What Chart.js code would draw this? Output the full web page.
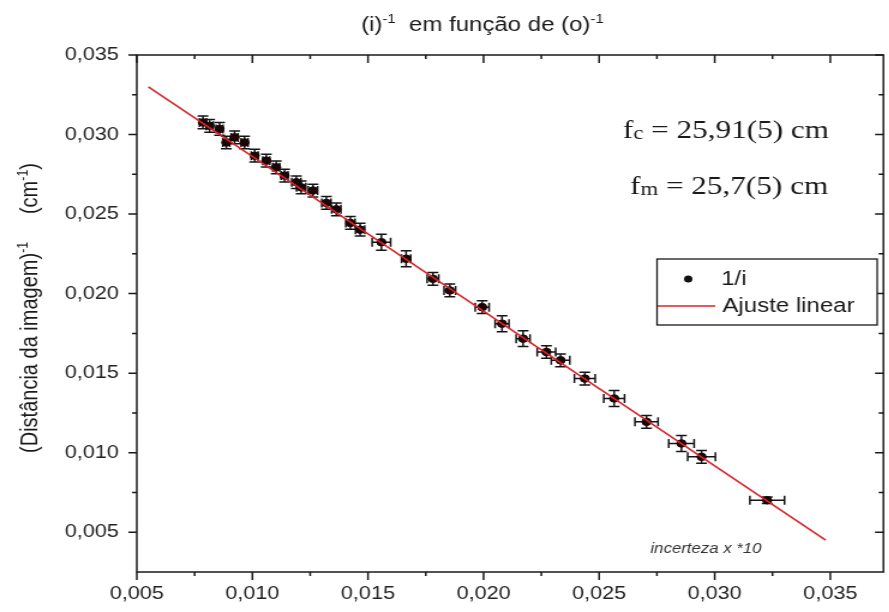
<!DOCTYPE html>
<html>
<head>
<meta charset="utf-8">
<script src="https://cdn.jsdelivr.net/npm/chart.js@4.4.1/dist/chart.umd.min.js"></script>
<style>
  html, body { margin: 0; padding: 0; background: #fff; overflow: hidden; }
  /* the reference looks stretched sideways, so draw narrow and scale up */
  #wrap { width: 741px; height: 612px; transform: scaleX(1.2); transform-origin: 0 0; }
</style>
</head>
<body>
<div id="wrap"><canvas id="chart"></canvas></div>
<script>
// 1/o (cm^-1)
const invObject = [0.00786, 0.00815, 0.00858, 0.00887, 0.00923, 0.00966, 0.01010, 0.01060,
  0.01103, 0.01139, 0.01190, 0.01211, 0.01262, 0.01320, 0.01363, 0.01424, 0.01466, 0.01558,
  0.01665, 0.01781, 0.01854, 0.01994, 0.02080, 0.02171, 0.02272, 0.02333, 0.02438, 0.02565,
  0.02705, 0.02856, 0.02943, 0.03227];
// 1/i (cm^-1)
const invImage = [0.03076, 0.03055, 0.03035, 0.02950, 0.02982, 0.02950, 0.02867, 0.02836,
  0.02794, 0.02742, 0.02700, 0.02668, 0.02648, 0.02570, 0.02530, 0.02444, 0.02402, 0.02323,
  0.02219, 0.02093, 0.02020, 0.01915, 0.01811, 0.01717, 0.01633, 0.01581, 0.01466, 0.01341,
  0.01194, 0.01058, 0.00974, 0.00701];
// uncertainties (x already multiplied by 10)
const errObject = [0.00015, 0.00015, 0.00015, 0.00015, 0.00015, 0.00015, 0.00015, 0.00015,
  0.00015, 0.00015, 0.0002, 0.0002, 0.0002, 0.0002, 0.0002, 0.0002, 0.0002, 0.0004,
  0.0002, 0.00025, 0.00025, 0.0003, 0.0003, 0.0003, 0.0004, 0.0004, 0.00045, 0.00045,
  0.0005, 0.00055, 0.0006, 0.00075];
const errImage = [0.0004, 0.0004, 0.0004, 0.0004, 0.0004, 0.0004, 0.0004, 0.0004,
  0.0004, 0.0004, 0.0004, 0.0004, 0.0004, 0.0004, 0.0004, 0.0004, 0.0004, 0.0005,
  0.0005, 0.0004, 0.0004, 0.0004, 0.0005, 0.0005, 0.0004, 0.0004, 0.0004, 0.0005,
  0.0004, 0.0005, 0.0004, 0.0002];

const fitX = [0.0055, 0.0348];
const fitY = [0.0330, 0.0045];

const xTicks = [0.005, 0.010, 0.015, 0.020, 0.025, 0.030, 0.035];
const yTicks = [0.005, 0.010, 0.015, 0.020, 0.025, 0.030, 0.035];

const fmt = v => v.toFixed(3).replace('.', ',');
const SANS = '"Liberation Sans", Arial, sans-serif';
const SERIF = '"Liberation Serif", "Times New Roman", serif';

function richText(ctx, parts, x, y, size, align) {
  let total = 0;
  parts.forEach(p => {
    ctx.font = (p.sup ? size * 0.62 : size) + 'px ' + SANS;
    p.w = ctx.measureText(p.t).width;
    total += p.w;
  });
  let cx = align === 'center' ? x - total / 2 : x;
  parts.forEach(p => {
    ctx.font = (p.sup ? size * 0.62 : size) + 'px ' + SANS;
    ctx.fillText(p.t, cx, p.sup ? y - size * 0.42 : y);
    cx += p.w;
  });
}

const decor = {
  id: 'decor',
  beforeDatasetsDraw(chart) {
    const { ctx, scales: { x, y } } = chart;
    ctx.save();
    ctx.strokeStyle = '#151515';
    ctx.lineWidth = 1.5;
    const c = 4.5;
    invObject.forEach((o, i) => {
      const px = x.getPixelForValue(o), py = y.getPixelForValue(invImage[i]);
      const x0 = x.getPixelForValue(o - errObject[i]), x1 = x.getPixelForValue(o + errObject[i]);
      const y0 = y.getPixelForValue(invImage[i] - errImage[i]), y1 = y.getPixelForValue(invImage[i] + errImage[i]);
      ctx.beginPath();
      ctx.moveTo(x0, py); ctx.lineTo(x1, py);
      ctx.moveTo(x0, py - c); ctx.lineTo(x0, py + c);
      ctx.moveTo(x1, py - c); ctx.lineTo(x1, py + c);
      ctx.moveTo(px, y0); ctx.lineTo(px, y1);
      ctx.moveTo(px - c, y0); ctx.lineTo(px + c, y0);
      ctx.moveTo(px - c, y1); ctx.lineTo(px + c, y1);
      ctx.stroke();
    });
    ctx.restore();
  },
  afterDraw(chart) {
    const { ctx, chartArea: a, scales: { x, y } } = chart;
    ctx.save();

    // frame + ticks
    ctx.strokeStyle = '#1a1a1a';
    ctx.lineWidth = 1.5;
    ctx.strokeRect(a.left, a.top, a.right - a.left, a.bottom - a.top);
    ctx.beginPath();
    for (let v = 0.005; v <= 0.0351; v += 0.0025) {
      const major = Math.abs(v / 0.005 - Math.round(v / 0.005)) < 1e-6;
      const lx = major ? 7 : 4, ly = major ? 8 : 4;
      const px = x.getPixelForValue(v);
      if (px <= a.right) {
        ctx.moveTo(px, a.bottom); ctx.lineTo(px, a.bottom + ly);
        ctx.moveTo(px, a.top); ctx.lineTo(px, a.top + ly);
      }
      const py = y.getPixelForValue(v);
      ctx.moveTo(a.left, py); ctx.lineTo(a.left - lx, py);
      ctx.moveTo(a.right, py); ctx.lineTo(a.right - lx, py);
    }
    ctx.stroke();

    ctx.fillStyle = '#1a1a1a';
    ctx.textBaseline = 'alphabetic';

    // title
    richText(ctx, [{ t: '(i)' }, { t: '-1', sup: true }, { t: '  em função de (o)' }, { t: '-1', sup: true }],
      402, 31, 20, 'center');

    // y axis title
    ctx.save();
    ctx.translate(31, 308);
    ctx.rotate(-Math.PI / 2);
    richText(ctx, [{ t: '(Distância da imagem)' }, { t: '-1', sup: true }, { t: '     (cm' }, { t: '-1', sup: true }, { t: ')' }],
      0, 0, 20, 'center');
    ctx.restore();

    // focal lengths
    const ann = (sub, rest, x0, base) => {
      ctx.font = '26px ' + SERIF;
      ctx.fillText('f', x0, base);
      let cx = x0 + ctx.measureText('f').width;
      ctx.font = '19px ' + SERIF;
      ctx.fillText(sub, cx, base + 1);
      cx += ctx.measureText(sub).width;
      ctx.font = '26px ' + SERIF;
      ctx.fillText(rest, cx, base);
    };
    ann('c', ' = 25,91(5) cm', 519, 138);
    ann('m', ' = 25,7(5) cm', 525, 194);

    // legend
    ctx.fillStyle = '#fff';
    ctx.fillRect(547.5, 259, 183.5, 66);
    ctx.strokeStyle = '#1a1a1a';
    ctx.lineWidth = 1.3;
    ctx.strokeRect(547.5, 259, 183.5, 66);
    ctx.fillStyle = '#111';
    ctx.beginPath();
    ctx.arc(573.5, 279, 3.5, 0, Math.PI * 2);
    ctx.fill();
    ctx.strokeStyle = '#d8242c';
    ctx.lineWidth = 1.4;
    ctx.beginPath();
    ctx.moveTo(548, 306); ctx.lineTo(596, 306);
    ctx.stroke();
    ctx.fillStyle = '#1a1a1a';
    ctx.font = '20px ' + SANS;
    ctx.textBaseline = 'middle';
    ctx.fillText('1/i', 601, 279);
    ctx.fillText('Ajuste linear', 602, 306);

    // note
    ctx.font = 'italic 14px ' + SANS;
    ctx.fillStyle = '#333';
    ctx.textBaseline = 'alphabetic';
    ctx.fillText('incerteza x *10', 542, 553);

    ctx.restore();
  }
};

new Chart(document.getElementById('chart'), {
  type: 'scatter',
  data: {
    datasets: [
      {
        label: '1/i',
        data: invObject.map((o, i) => ({ x: o, y: invImage[i] })),
        backgroundColor: '#1b0606',
        borderColor: '#1b0606',
        pointRadius: 3.8,
        pointHoverRadius: 3.8,
        order: 1
      },
      {
        label: 'Ajuste linear',
        data: fitX.map((v, i) => ({ x: v, y: fitY[i] })),
        showLine: true,
        borderColor: '#d8242c',
        borderWidth: 1.6,
        pointRadius: 0,
        fill: false,
        order: 0
      }
    ]
  },
  options: {
    responsive: true,
    maintainAspectRatio: false,
    animation: false,
    layout: { padding: { top: 55, right: 4, left: 0, bottom: 0 } },
    plugins: { legend: { display: false }, title: { display: false }, tooltip: { enabled: false } },
    scales: {
      x: {
        type: 'linear', min: 0.005, max: 0.0373,
        afterBuildTicks: s => { s.ticks = xTicks.map(v => ({ value: v })); },
        afterFit: s => { s.height = 40; },
        grid: { display: false, drawTicks: false },
        border: { display: false },
        ticks: { callback: v => fmt(v), font: { family: SANS, size: 18 }, color: '#222', padding: 11, maxRotation: 0, autoSkip: false }
      },
      y: {
        type: 'linear', min: 0.0025, max: 0.035,
        afterBuildTicks: s => { s.ticks = yTicks.map(v => ({ value: v })); },
        afterFit: s => { s.width = 114; },
        grid: { display: false, drawTicks: false },
        border: { display: false },
        ticks: { callback: v => fmt(v), font: { family: SANS, size: 18 }, color: '#222', padding: 15, autoSkip: false }
      }
    }
  },
  plugins: [decor]
});
</script>
</body>
</html>
